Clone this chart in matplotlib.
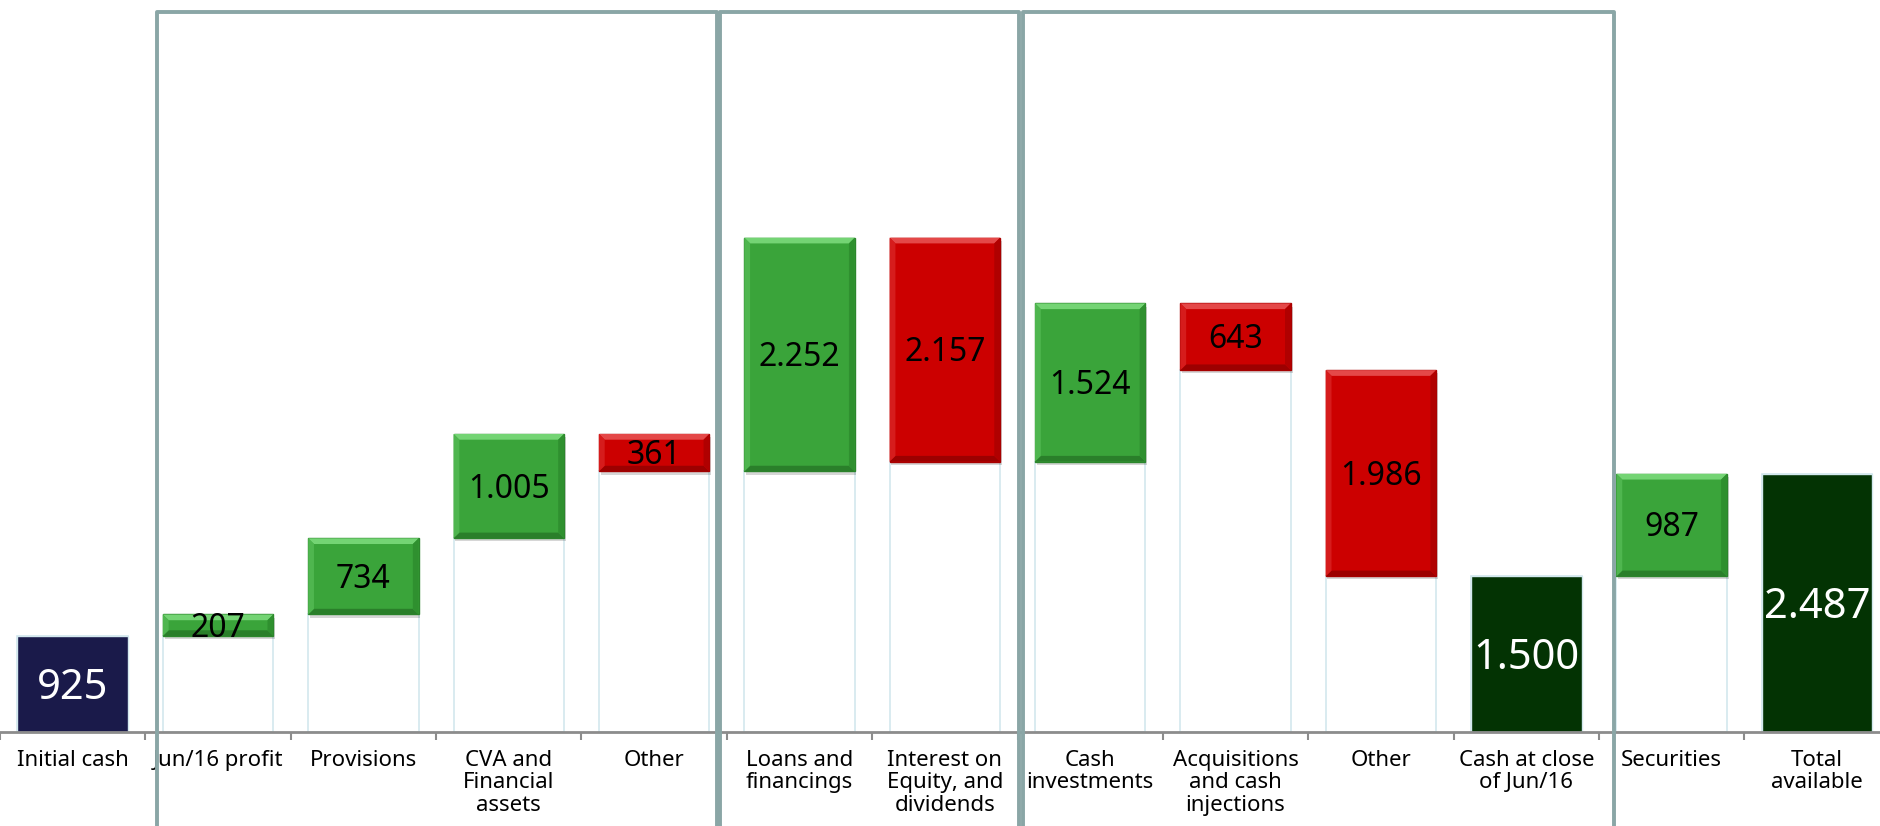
import numpy as np
import matplotlib.pyplot as plt
from matplotlib.patches import Rectangle, Polygon

plt.rcParams['font.family'] = ['Noto Sans', 'DejaVu Sans']

categories = ['Initial cash', 'Jun/16 profit', 'Provisions', 'CVA and\nFinancial\nassets', 'Other',
              'Loans and\nfinancings', 'Interest on\nEquity, and\ndividends', 'Cash\ninvestments',
              'Acquisitions\nand cash\ninjections', 'Other', 'Cash at close\nof Jun/16', 'Securities',
              'Total\navailable']
values = [925, 207, 734, 1005, -361, 2252, -2157, 1524, -643, -1986, 1500, 987, 2487]
kinds = ['total', 'step', 'step', 'step', 'step', 'step', 'step', 'step', 'step', 'step',
         'total', 'step', 'total']
value_labels = ['925', '207', '734', '1.005', '361', '2.252', '2.157', '1.524', '643', '1.986',
                '1.500', '987', '2.487']

# waterfall geometry
bottoms, heights = [], []
running = 0
for v, k in zip(values, kinds):
    if k == 'total':
        bottoms.append(0)
        heights.append(v)
        running = v
    elif v >= 0:
        bottoms.append(running)
        heights.append(v)
        running += v
    else:
        running += v
        bottoms.append(running)
        heights.append(-v)
bottoms = np.array(bottoms)
heights = np.array(heights)
x = np.arange(len(categories))

bar_w = 0.76
green = dict(face='#3aa43a', top='#74d474', left='#4fb64f', right='#2f902f', bottom='#2a7f2a', edge='#2c862c')
red = dict(face='#cc0000', top='#e44848', left='#d61c1c', right='#b00000', bottom='#9c0000', edge='#a80000')

fig = plt.figure(figsize=(18.81, 8.26), dpi=100)
ax = fig.add_axes([0, 0.1138, 1, 0.8862])
ax.set_xlim(-0.5, 12.44)
ax.set_ylim(0, 7052)

# light connector outlines (invisible base bars)
base_h = np.where(np.array(kinds) == 'total', heights, bottoms)
ax.bar(x, base_h, width=bar_w, facecolor='none', edgecolor='#d3e8ee', lw=1.2, zorder=1)


def put_label(xc, yc, txt, size, color):
    # centre the digits (cap height ~0.714 em) on the bar middle
    ax.annotate(txt, (xc, yc), xytext=(0, -0.357 * size), textcoords='offset points',
                ha='center', va='baseline', fontsize=size, color=color, zorder=6)


for i in range(len(x)):
    b, h = bottoms[i], heights[i]
    l, r = x[i] - bar_w / 2, x[i] + bar_w / 2
    t = b + h
    if kinds[i] == 'total':
        col = '#1a1a4a' if i == 0 else '#033303'
        ax.bar(x[i], h, bottom=b, width=bar_w, color=col, edgecolor='#d3e8ee', lw=1.0, zorder=2)
        put_label(x[i], b + h / 2, value_labels[i], 30, 'white')
        continue
    c = green if values[i] >= 0 else red
    # soft shadow
    ax.add_patch(Rectangle((l + 0.012, b - 30), bar_w, h, facecolor='black', alpha=0.16,
                           lw=0, zorder=1.5))
    ax.bar(x[i], h, bottom=b, width=bar_w, color=c['face'], edgecolor=c['edge'], lw=1.0, zorder=2)
    dx = 0.04
    dy = min(55, h * 0.3)
    ax.add_patch(Polygon([(l, t), (r, t), (r - dx, t - dy), (l + dx, t - dy)], color=c['top'], lw=0, zorder=3))
    ax.add_patch(Polygon([(l, b), (r, b), (r - dx, b + dy), (l + dx, b + dy)], color=c['bottom'], lw=0, zorder=3))
    ax.add_patch(Polygon([(l, b), (l, t), (l + dx, t - dy), (l + dx, b + dy)], color=c['left'], lw=0, zorder=3))
    ax.add_patch(Polygon([(r, b), (r, t), (r - dx, t - dy), (r - dx, b + dy)], color=c['right'], lw=0, zorder=3))
    put_label(x[i], b + h / 2, value_labels[i], 23, 'black')

# group frames
box_edges = [(0.58, 4.43), (4.455, 6.51), (6.535, 10.6)]
for x0, x1 in box_edges:
    ax.add_patch(Rectangle((x0, -2000), x1 - x0, 6936 + 2000, facecolor='none',
                           edgecolor='#8aa6a6', lw=2.8, joinstyle='round', clip_on=False, zorder=4))

for s in ['top', 'left', 'right']:
    ax.spines[s].set_visible(False)
ax.spines['bottom'].set_color('#8c8c8c')
ax.spines['bottom'].set_linewidth(2)
ax.set_yticks([])
ax.set_xticks(x, categories, fontsize=16, linespacing=1.08)
ax.set_xticks(x - 0.5, minor=True)
ax.tick_params(axis='x', which='major', length=0, pad=13, colors='black')
ax.tick_params(axis='x', which='minor', length=6, width=1.5, color='#8c8c8c')

fig.savefig('out.png', dpi=100)
